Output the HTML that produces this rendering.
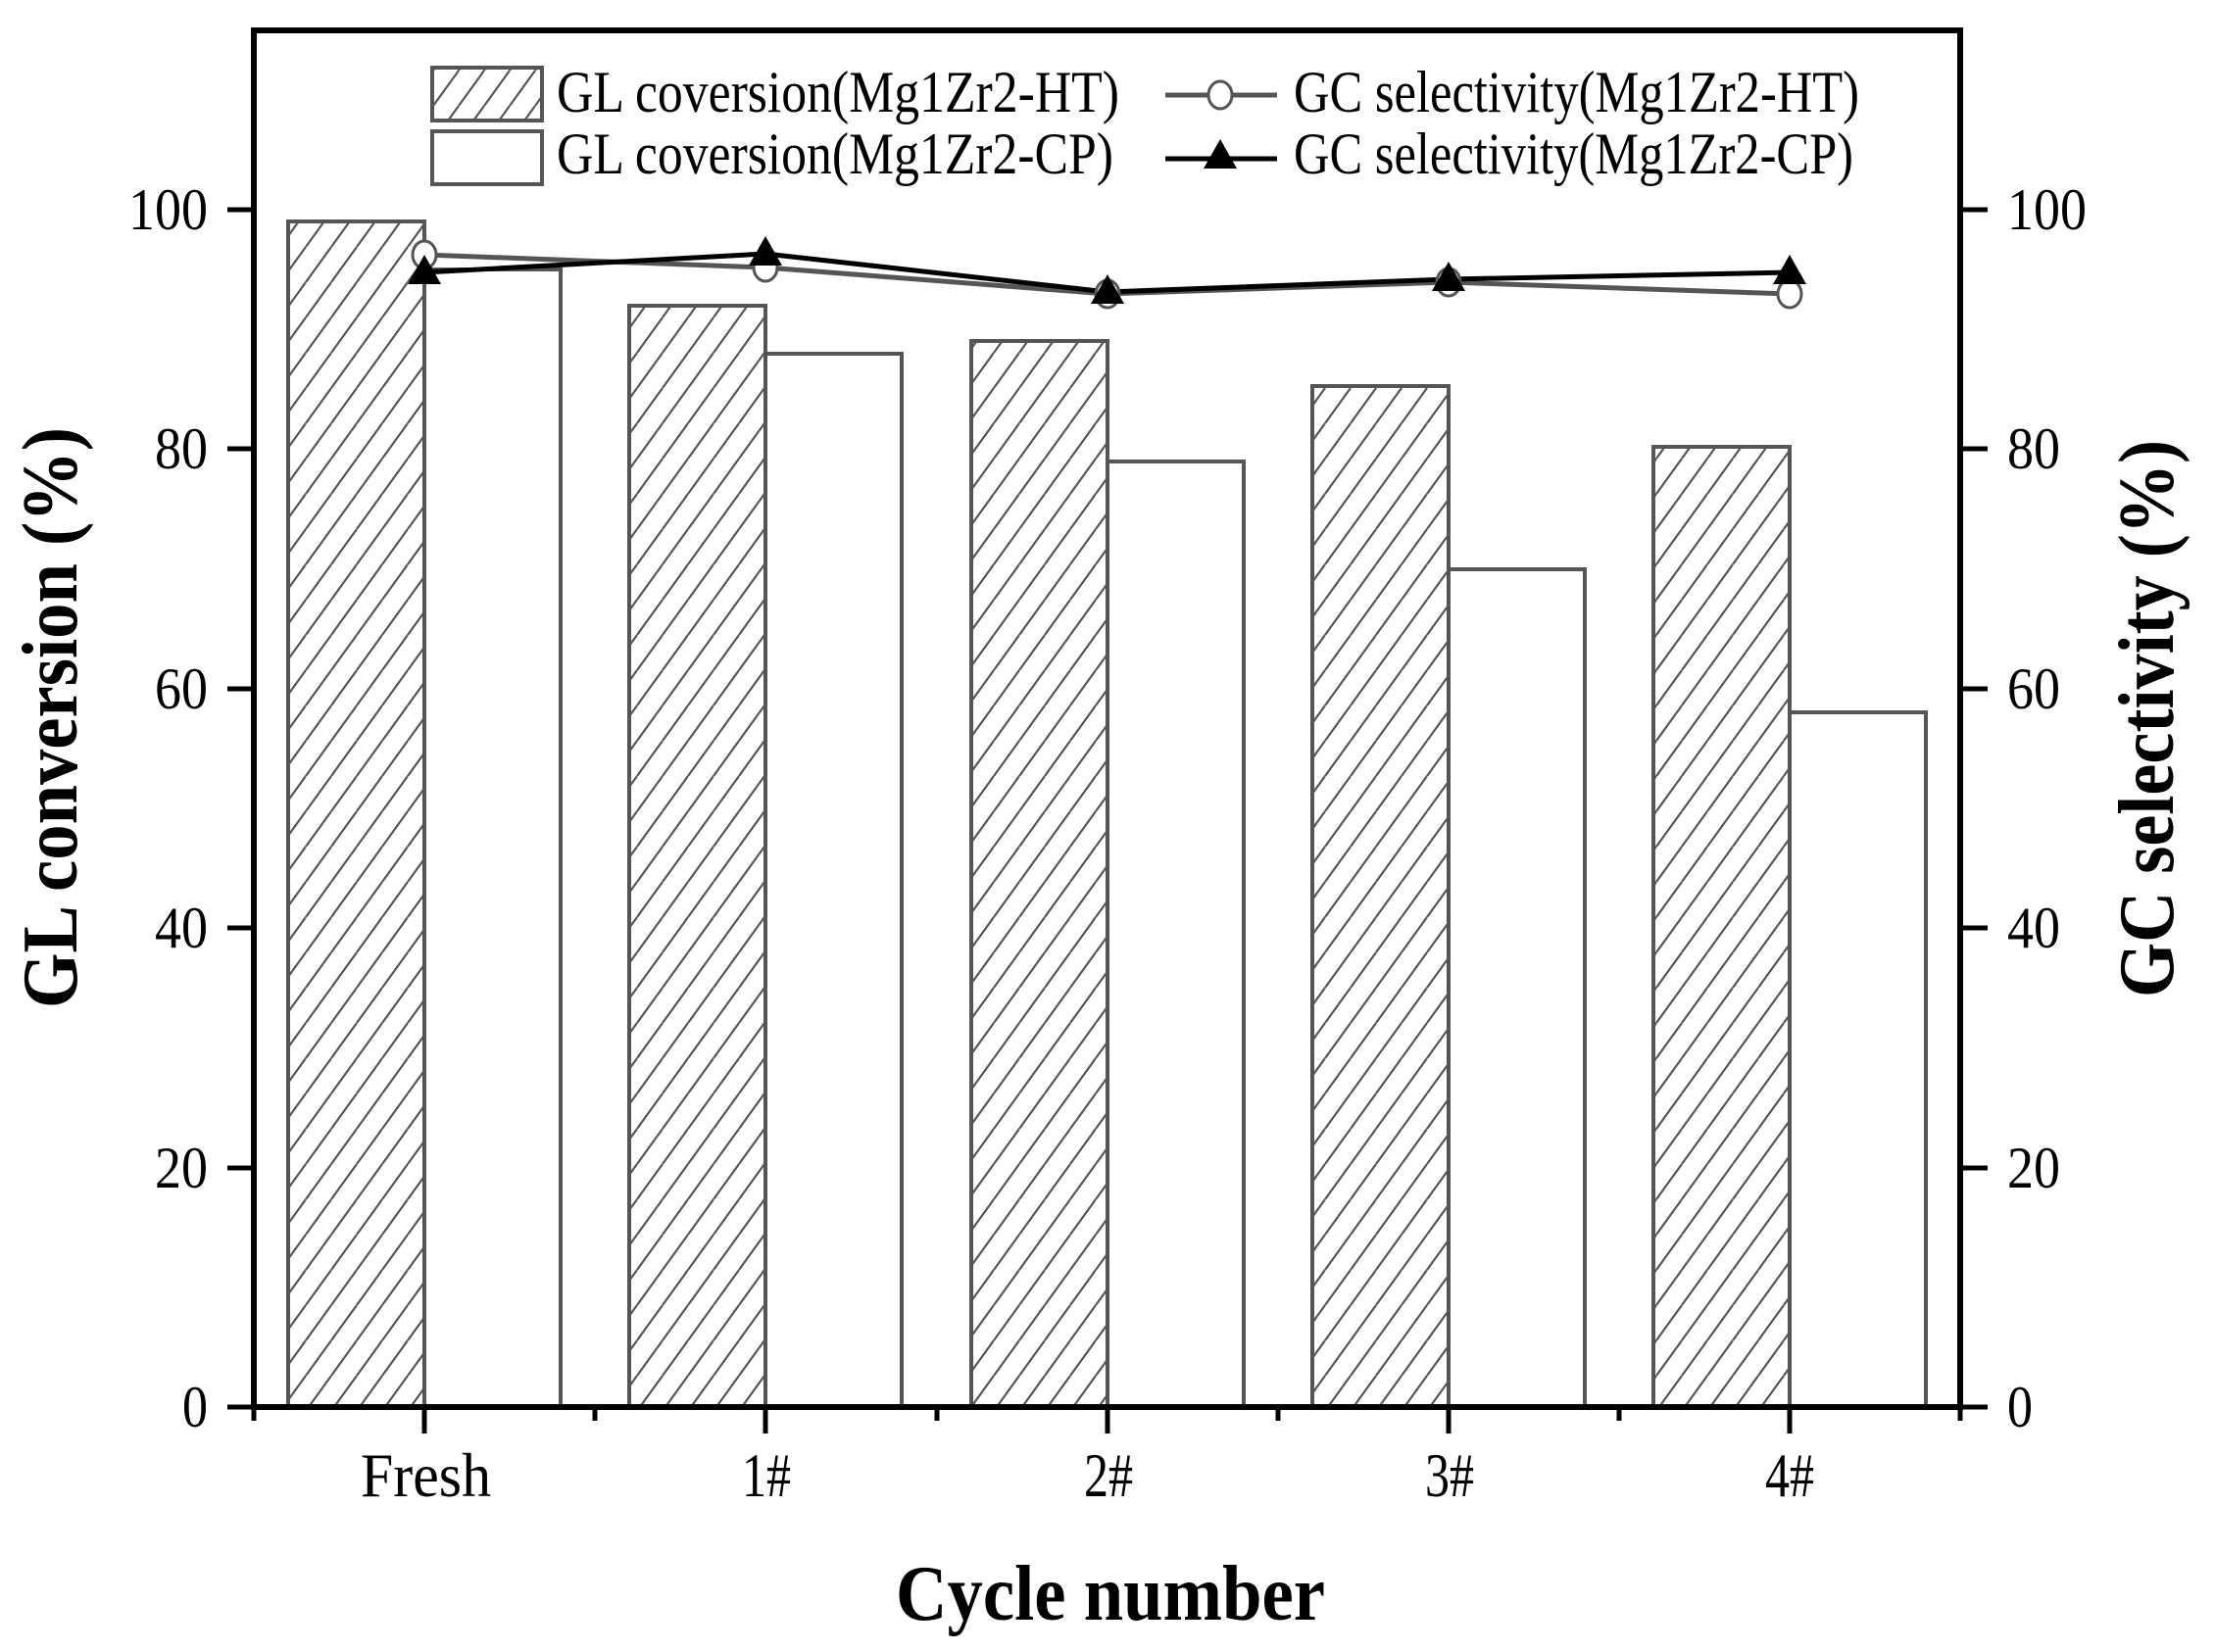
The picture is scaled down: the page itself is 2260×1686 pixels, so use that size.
<!DOCTYPE html>
<html><head><meta charset="utf-8"><style>html,body{margin:0;padding:0;background:#fff}svg{display:block}</style></head>
<body>
<svg width="2260" height="1686" viewBox="0 0 2260 1686" xmlns="http://www.w3.org/2000/svg" font-family="'Liberation Serif', serif">
<defs>
<pattern id="h" patternUnits="userSpaceOnUse" width="26" height="36">
<line x1="-13" y1="54" x2="26" y2="0" stroke="#555" stroke-width="2"/>
<line x1="0" y1="36" x2="26" y2="0" stroke="#555" stroke-width="2"/>
<line x1="13" y1="54" x2="39" y2="18" stroke="#555" stroke-width="2"/>
<line x1="-26" y1="36" x2="0" y2="0" stroke="#555" stroke-width="2"/>
</pattern>
</defs>
<g stroke="#555" stroke-width="4">
<rect x="294" y="226" width="139" height="1210" fill="url(#h)"/>
<rect x="433" y="275" width="139" height="1161" fill="#fff"/>
<rect x="642" y="312" width="139" height="1124" fill="url(#h)"/>
<rect x="781" y="361" width="139" height="1075" fill="#fff"/>
<rect x="991" y="348" width="139" height="1088" fill="url(#h)"/>
<rect x="1130" y="471" width="139" height="965" fill="#fff"/>
<rect x="1339" y="394" width="139" height="1042" fill="url(#h)"/>
<rect x="1478" y="581" width="139" height="855" fill="#fff"/>
<rect x="1687" y="456" width="139" height="980" fill="url(#h)"/>
<rect x="1826" y="727" width="139" height="709" fill="#fff"/>
</g>
<polyline points="433,260 781,273 1130,300 1478,288 1826,300" fill="none" stroke="#555" stroke-width="5"/>
<polyline points="433,278 781,259 1130,298 1478,285 1826,278" fill="none" stroke="#000" stroke-width="5"/>
<g fill="#fff" stroke="#555" stroke-width="3">
<ellipse cx="433" cy="260" rx="12" ry="14"/><ellipse cx="781" cy="273" rx="12" ry="14"/><ellipse cx="1130" cy="300" rx="12" ry="14"/><ellipse cx="1478" cy="288" rx="12" ry="14"/><ellipse cx="1826" cy="300" rx="12" ry="14"/>
</g>
<g fill="#000">
<polygon points="433,260 416,290 450,290"/><polygon points="781,241 764,271 798,271"/><polygon points="1130,280 1113,310 1147,310"/><polygon points="1478,267 1461,297 1495,297"/><polygon points="1826,260 1809,290 1843,290"/>
</g>
<rect x="259" y="31" width="1741" height="1405" fill="none" stroke="#000" stroke-width="6"/>
<g stroke="#000" stroke-width="5">
<line x1="232" y1="1436" x2="259" y2="1436"/><line x1="232" y1="1192" x2="259" y2="1192"/><line x1="232" y1="947" x2="259" y2="947"/><line x1="232" y1="703" x2="259" y2="703"/><line x1="232" y1="458" x2="259" y2="458"/><line x1="232" y1="214" x2="259" y2="214"/>
<line x1="2000" y1="1436" x2="2028" y2="1436"/><line x1="2000" y1="1192" x2="2028" y2="1192"/><line x1="2000" y1="947" x2="2028" y2="947"/><line x1="2000" y1="703" x2="2028" y2="703"/><line x1="2000" y1="458" x2="2028" y2="458"/><line x1="2000" y1="214" x2="2028" y2="214"/>
<line x1="433" y1="1436" x2="433" y2="1463"/><line x1="781" y1="1436" x2="781" y2="1463"/><line x1="1130" y1="1436" x2="1130" y2="1463"/><line x1="1478" y1="1436" x2="1478" y2="1463"/><line x1="1826" y1="1436" x2="1826" y2="1463"/>
<line x1="259" y1="1436" x2="259" y2="1450"/><line x1="607" y1="1436" x2="607" y2="1450"/><line x1="956" y1="1436" x2="956" y2="1450"/><line x1="1304" y1="1436" x2="1304" y2="1450"/><line x1="1652" y1="1436" x2="1652" y2="1450"/><line x1="2000" y1="1436" x2="2000" y2="1450"/>
</g>
<g font-size="60" text-anchor="end">
<text x="212" y="1456" textLength="26" lengthAdjust="spacingAndGlyphs">0</text>
<text x="212" y="1212" textLength="54" lengthAdjust="spacingAndGlyphs">20</text>
<text x="212" y="967" textLength="54" lengthAdjust="spacingAndGlyphs">40</text>
<text x="212" y="723" textLength="54" lengthAdjust="spacingAndGlyphs">60</text>
<text x="212" y="478" textLength="54" lengthAdjust="spacingAndGlyphs">80</text>
<text x="212" y="234" textLength="81" lengthAdjust="spacingAndGlyphs">100</text>
</g>
<g font-size="60">
<text x="2048" y="1456" textLength="26" lengthAdjust="spacingAndGlyphs">0</text>
<text x="2048" y="1212" textLength="54" lengthAdjust="spacingAndGlyphs">20</text>
<text x="2048" y="967" textLength="54" lengthAdjust="spacingAndGlyphs">40</text>
<text x="2048" y="723" textLength="54" lengthAdjust="spacingAndGlyphs">60</text>
<text x="2048" y="478" textLength="54" lengthAdjust="spacingAndGlyphs">80</text>
<text x="2048" y="234" textLength="81" lengthAdjust="spacingAndGlyphs">100</text>
</g>
<g font-size="64">
<text x="368" y="1527" textLength="133" lengthAdjust="spacingAndGlyphs">Fresh</text>
<text x="757" y="1527" textLength="50" lengthAdjust="spacingAndGlyphs">1#</text>
<text x="1106" y="1527" textLength="50" lengthAdjust="spacingAndGlyphs">2#</text>
<text x="1454" y="1527" textLength="50" lengthAdjust="spacingAndGlyphs">3#</text>
<text x="1801" y="1527" textLength="50" lengthAdjust="spacingAndGlyphs">4#</text>
</g>
<text x="914" y="1653" font-size="80" font-weight="bold" textLength="438" lengthAdjust="spacingAndGlyphs">Cycle number</text>
<text transform="translate(78,1029) rotate(-90)" font-size="80" font-weight="bold" textLength="593" lengthAdjust="spacingAndGlyphs">GL conversion (%)</text>
<text transform="translate(2217,1018) rotate(-90)" font-size="80" font-weight="bold" textLength="569" lengthAdjust="spacingAndGlyphs">GC selectivity (%)</text>
<rect x="441" y="69" width="112" height="54" fill="url(#h)" stroke="#555" stroke-width="4"/>
<rect x="441" y="134" width="112" height="54" fill="#fff" stroke="#555" stroke-width="4"/>
<text x="568" y="114" font-size="60" textLength="574" lengthAdjust="spacingAndGlyphs">GL coversion(Mg1Zr2-HT)</text>
<text x="568" y="177" font-size="60" textLength="568" lengthAdjust="spacingAndGlyphs">GL coversion(Mg1Zr2-CP)</text>
<line x1="1189" y1="97" x2="1303" y2="97" stroke="#555" stroke-width="5"/>
<ellipse cx="1245" cy="97" rx="12" ry="14" fill="#fff" stroke="#555" stroke-width="3"/>
<line x1="1189" y1="162" x2="1303" y2="162" stroke="#000" stroke-width="5"/>
<polygon points="1245,142 1228,172 1262,172" fill="#000"/>
<text x="1320" y="114" font-size="60" textLength="577" lengthAdjust="spacingAndGlyphs">GC selectivity(Mg1Zr2-HT)</text>
<text x="1320" y="177" font-size="60" textLength="571" lengthAdjust="spacingAndGlyphs">GC selectivity(Mg1Zr2-CP)</text>
</svg>
</body></html>
